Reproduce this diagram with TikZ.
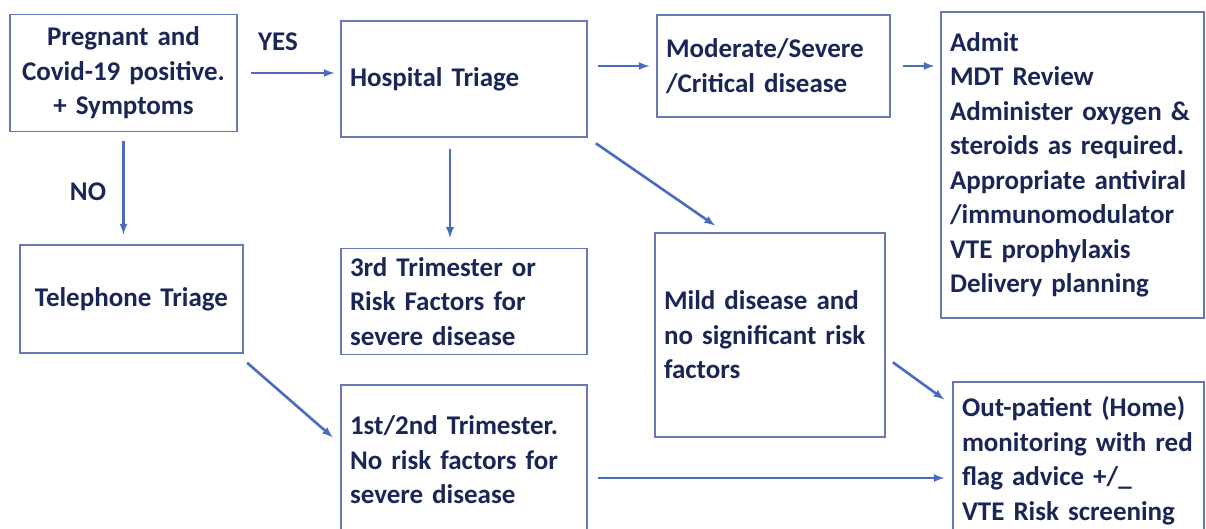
\documentclass[tikz,border=0pt]{standalone}
\usepackage{fontspec}
\setmainfont{Carlito}
\usetikzlibrary{arrows}

\definecolor{navy}{HTML}{1A2656}
\definecolor{boxline}{HTML}{6878B4}
\definecolor{flow}{HTML}{4A6CBE}

\begin{document}
\begin{tikzpicture}[x=1pt,y=-1pt]
   \tikzstyle{box}=[draw=boxline,line width=1.2pt,inner sep=9pt,text=navy,font=\fontsize{27}{34.5}\selectfont\bfseries]
   \tikzstyle{lbl}=[text=navy,font=\fontsize{27}{34.5}\selectfont\bfseries]
   \tikzstyle{flowarrow}=[flow,line width=2.6pt,-latex]

   \useasboundingbox (0,0) rectangle (1206,529);
   \clip (0,0) rectangle (1206,529);

   \node[box,minimum width=227,minimum height=117,text width=209,align=center] (1) at (123.5,73) {Pregnant and\\Covid-19 positive.\\+ Symptoms};
   \node[box,minimum width=246,minimum height=116,text width=228,align=left] (2) at (464,79) {Hospital Triage};
   \node[box,minimum width=233,minimum height=102,text width=215,align=left] (3) at (773.5,66) {Moderate/Severe\\/Critical disease};
   \node[box,minimum width=263,minimum height=306,text width=245,align=left] (4) at (1072.5,165) {Admit\\MDT Review\\Administer oxygen \&\\steroids as required.\\Appropriate antiviral\\/immunomodulator\\VTE prophylaxis\\Delivery planning};
   \node[box,minimum width=223,minimum height=108,text width=205,align=center] (5) at (131.5,299) {Telephone Triage};
   \node[box,minimum width=246,minimum height=103,text width=228,align=left] (6) at (464,301.5) {3rd Trimester or\\Risk Factors for\\severe disease};
   \node[box,minimum width=230,minimum height=204,text width=212,align=left] (7) at (770,335) {Mild disease and\\no significant risk\\factors};
   \node[box,minimum width=246,minimum height=150,text width=228,align=left] (8) at (464,460) {1st/2nd Trimester.\\No risk factors for\\severe disease};
   \node[box,minimum width=251,minimum height=158,text width=233,align=left] (9) at (1078.5,461) {Out-patient (Home)\\monitoring with red\\flag advice +/\_\\VTE Risk screening};

   \node[lbl] (10) at (278,42) {YES};
   \node[lbl] (11) at (88,192) {NO};

   \draw[flowarrow,shorten <=13pt,shorten >=6pt] (1.east) -- (1.east -| 2.west);
   \draw[flowarrow,shorten <=10pt,shorten >=7pt] (3.west -| 2.east) -- (3.west);
   \draw[flowarrow,shorten <=12pt,shorten >=6pt] (3.east) -- (3.east -| 4.west);
   \draw[flowarrow,shorten <=9pt,shorten >=10pt] (1.south) -- (1.south |- 5.north);
   \draw[flowarrow,shorten <=11pt,shorten >=10pt] ([xshift=-14]2.south) -- ([xshift=-14]6.north);
   \draw[flowarrow,shorten <=10pt,shorten >=12pt] (2.south east) -- ([xshift=-45]7.north);
   \draw[flowarrow,shorten <=14pt,shorten >=10pt] ([xshift=-7]5.south east) -- ([yshift=16]8.west);
   \draw[flowarrow,shorten <=9pt,shorten >=10pt] ([yshift=-22]7.east) -- ([yshift=-24]9.north west);
   \draw[flowarrow,shorten <=10pt,shorten >=8pt] ([yshift=-18]8.east) -- ([yshift=-18]8.east -| 9.west);
\end{tikzpicture}
\end{document}
